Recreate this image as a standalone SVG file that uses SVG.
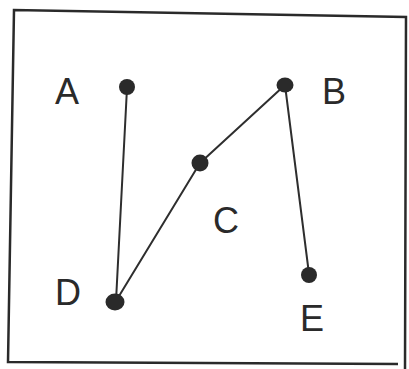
<svg xmlns="http://www.w3.org/2000/svg" width="409" height="369" viewBox="0 0 409 369">
<style>
.lbl{font-family:"Liberation Sans",Arial,sans-serif;font-size:36px;fill:#2a2a2a;text-anchor:middle}
.edge{stroke:#2e2e2e;stroke-width:2;fill:none;stroke-linecap:round}
.dot{fill:#2a2a2a}
.frame{fill:none;stroke:#2a2a2a;stroke-width:2.5}
</style>
<rect width="409" height="369" fill="#ffffff"/>
<path class="frame" d="M405 369 L406 17 L14 10 L8 362 L398 364"/>
<g id="connectors">
<line class="edge" x1="127" y1="88" x2="116" y2="301"/>
<line class="edge" x1="116" y1="301" x2="200" y2="163"/>
<line class="edge" x1="200" y1="163" x2="285" y2="85"/>
<line class="edge" x1="285" y1="85" x2="309" y2="274"/>
</g>
<g id="A"><ellipse class="dot" cx="127" cy="87" rx="8" ry="8"/><text class="lbl" x="67" y="104">A</text></g>
<g id="B"><ellipse class="dot" cx="285" cy="85" rx="8.5" ry="7.5"/><text class="lbl" x="334" y="104">B</text></g>
<g id="C"><ellipse class="dot" cx="200" cy="163" rx="8.5" ry="8.5"/><text class="lbl" x="226" y="233">C</text></g>
<g id="D"><ellipse class="dot" cx="115" cy="302" rx="9.5" ry="8.5"/><text class="lbl" x="68" y="305">D</text></g>
<g id="E"><ellipse class="dot" cx="309" cy="275" rx="8" ry="8"/><text class="lbl" x="312" y="331">E</text></g>
</svg>
